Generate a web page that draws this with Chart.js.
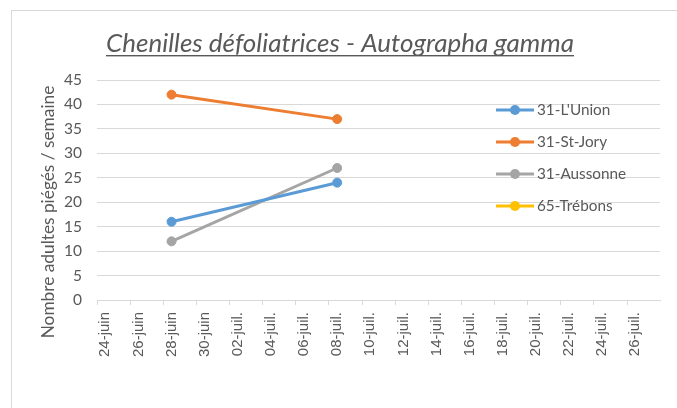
<!DOCTYPE html>
<html>
<head>
<meta charset="utf-8">
<script src="https://cdn.jsdelivr.net/npm/chart.js@4.4.1/dist/chart.umd.min.js"></script>
<style>
html,body{margin:0;padding:0;background:#fff;}
canvas{display:block;}
</style>
</head>
<body>
<canvas id="c" width="677" height="408"></canvas>
<script>
// ---- data ----
const dayLabels = ['24-juin','25-juin','26-juin','27-juin','28-juin','29-juin','30-juin',
  '01-juil.','02-juil.','03-juil.','04-juil.','05-juil.','06-juil.','07-juil.','08-juil.',
  '09-juil.','10-juil.','11-juil.','12-juil.','13-juil.','14-juil.','15-juil.','16-juil.',
  '17-juil.','18-juil.','19-juil.','20-juil.','21-juil.','22-juil.','23-juil.','24-juil.',
  '25-juil.','26-juil.','27-juil.'];
const obsDates = ['28-juin','08-juil.'];
const seriesNames = ["31-L'Union", '31-St-Jory', '31-Aussonne', '65-Trébons'];
const lunion = [16, 24];
const stjory = [42, 37];
const aussonne = [12, 27];
const trebons = [];
const yTicks = [0, 5, 10, 15, 20, 25, 30, 35, 40, 45];
const chartTitle = 'Chenilles défoliatrices - Autographa gamma';
const yTitle = 'Nombre adultes piégés / semaine';

const colors = ['#5B9BD5', '#ED7D31', '#A5A5A5', '#FFC000'];
const seriesValues = [lunion, stjory, aussonne, trebons];

function pts(vals){ return vals.map((v,i)=>({x: obsDates[i], y: v})); }

const datasets = seriesValues.map((vals, k) => ({
  label: seriesNames[k],
  data: pts(vals),
  borderColor: colors[k],
  backgroundColor: colors[k],
  borderWidth: 3,
  pointRadius: 4.5,
  pointBorderWidth: 1,
  pointHoverRadius: 4.5,
  tension: 0
}));

const GRID = '#d9d9d9';
const TEXT = '#595959';

const decor = {
  id: 'decor',
  beforeDraw(chart){
    const ctx = chart.ctx;
    ctx.save();
    ctx.fillStyle = '#fff';
    ctx.fillRect(0,0,chart.width,chart.height);
    ctx.strokeStyle = GRID;
    ctx.lineWidth = 1;
    ctx.strokeRect(11.5, 10.5, 800, 600);
    ctx.restore();
  },
  afterDraw(chart){
    const ctx = chart.ctx;
    ctx.save();
    // title
    ctx.font = 'italic 26px Lato';
    ctx.fillStyle = TEXT;
    ctx.textAlign = 'center';
    ctx.textBaseline = 'alphabetic';
    const tx = 340, ty = 52;
    ctx.fillText(chartTitle, tx, ty);
    const w = ctx.measureText(chartTitle).width;
    ctx.fillRect(tx - w/2, ty + 3, w, 1.4);
    // y title
    ctx.save();
    ctx.translate(48, 212);
    ctx.rotate(-Math.PI/2);
    ctx.font = '17.3px Lato';
    ctx.textAlign = 'center';
    ctx.textBaseline = 'middle';
    ctx.fillText(yTitle, 0, 0);
    ctx.restore();
    // legend
    chart.data.datasets.forEach((ds, i) => {
      const y = 110 + i * 32;
      ctx.strokeStyle = ds.borderColor;
      ctx.lineWidth = 3;
      ctx.beginPath();
      ctx.moveTo(496, y); ctx.lineTo(534, y);
      ctx.stroke();
      ctx.fillStyle = ds.backgroundColor;
      ctx.beginPath();
      ctx.arc(515, y, 5, 0, Math.PI*2);
      ctx.fill();
      ctx.fillStyle = TEXT;
      ctx.font = '15.3px Lato';
      ctx.textAlign = 'left';
      ctx.textBaseline = 'middle';
      ctx.fillText(ds.label, 537, y + 0.5);
    });
    ctx.restore();
  }
};

new Chart(document.getElementById('c'), {
  type: 'line',
  data: { labels: dayLabels, datasets },
  plugins: [decor],
  options: {
    responsive: false,
    animation: false,
    devicePixelRatio: 1,
    layout: { padding: { top: 80, right: 9, bottom: 0, left: 0 } },
    plugins: { legend: { display: false }, title: { display: false }, tooltip: { enabled: false } },
    scales: {
      x: {
        type: 'category',
        offset: true,
        afterFit(s){ s.height = 108; },
        grid: {
          offset: true,
          drawOnChartArea: false,
          drawTicks: true,
          tickLength: 5,
          color: ctx => (ctx.index % 2 === 0 ? GRID : 'rgba(0,0,0,0)'),
          lineWidth: 1
        },
        border: { display: true, color: GRID, width: 1 },
        ticks: {
          autoSkip: false,
          maxRotation: 90,
          minRotation: 90,
          padding: 7,
          color: TEXT,
          font: { family: 'Liberation Sans', size: 15 },
          callback: (v, i) => (i % 2 === 0 ? dayLabels[i] : '')
        }
      },
      y: {
        min: 0,
        max: 45,
        afterFit(s){ s.width = 97; },
        afterBuildTicks(s){ s.ticks = yTicks.map(v => ({value: v})); },
        grid: { color: GRID, lineWidth: 1, drawTicks: false },
        border: { display: false },
        ticks: {
          padding: 15,
          color: TEXT,
          font: { family: 'Lato', size: 15.5 }
        }
      }
    }
  }
});
</script>
</body>
</html>
